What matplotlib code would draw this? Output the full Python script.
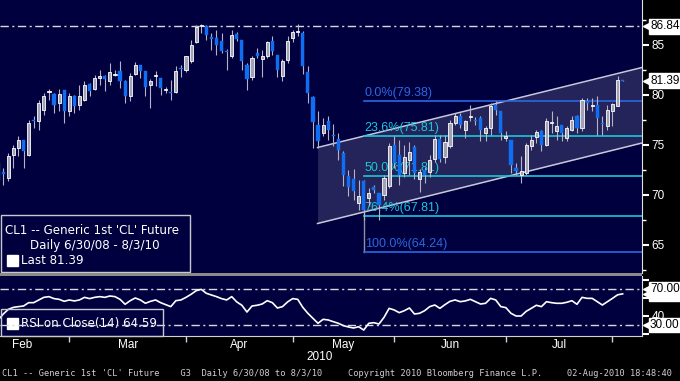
import numpy as np
import matplotlib.pyplot as plt
import matplotlib.transforms as mtransforms
from matplotlib.patches import Rectangle

# daily OHLC, CL1 generic 1st future, Feb 2010 -> 3 Aug 2010
opens = [73.17, 72.3, 71.67, 74.0, 74.67, 75.43, 74.0, 77.5, 77.33, 78.5,
         80.3, 80.1, 79.17, 80.43, 78.33, 79.9, 79.0, 79.5, 81.1, 80.57,
         81.7, 81.83, 81.33, 82.0, 82.33, 81.33, 79.9, 82.1, 83.0, 82.33,
         81.0, 81.9, 81.67, 80.5, 80.23, 80.23, 82.67, 82.5, 83.33, 85.23,
         86.83, 86.83, 85.73, 85.67, 85.33, 84.37, 83.83, 86.07, 85.43, 83.0,
         81.77, 84.17, 83.57, 83.83, 85.33, 84.0, 81.83, 83.43, 85.67, 86.3,
         86.17, 82.23, 79.73, 77.0, 76.17, 77.33, 75.93, 75.57, 74.17, 71.9,
         71.57, 69.17, 71.33, 69.67, 70.77, 70.17, 70.0, 70.83, 74.93, 74.0,
         72.2, 73.5, 74.8, 71.6, 72.5, 72.3, 73.6, 75.6, 73.8, 74.83,
         77.17, 77.83, 76.5, 77.73, 77.5, 77.67, 76.17, 76.67, 79.0, 78.33,
         75.67, 75.5, 72.67, 72.0, 72.17, 74.83, 75.77, 76.33, 75.0, 77.2,
         76.4, 77.0, 75.67, 76.5, 77.9, 76.67, 79.33, 78.83, 79.0, 77.17,
         76.83, 78.33, 78.9, 81.45]
highs = [73.3, 72.67, 74.17, 75.0, 75.83, 75.5, 77.5, 77.83, 79.5, 80.17,
         80.57, 80.17, 80.57, 80.5, 80.17, 80.0, 81.0, 81.33, 81.17, 82.0,
         82.5, 82.0, 83.17, 82.5, 83.33, 81.5, 82.17, 83.23, 83.0, 82.33,
         81.57, 82.4, 81.67, 80.77, 81.5, 82.9, 83.0, 83.9, 85.5, 87.0,
         87.1, 87.0, 86.17, 86.43, 86.17, 84.57, 86.5, 86.23, 85.5, 83.17,
         83.83, 84.67, 84.5, 85.33, 85.83, 84.0, 83.57, 85.83, 86.5, 87.1,
         86.33, 82.9, 79.83, 78.33, 77.67, 77.83, 77.1, 76.17, 74.33, 72.5,
         72.57, 71.5, 71.5, 70.67, 71.0, 70.17, 72.0, 75.17, 75.83, 75.5,
         75.0, 75.3, 75.0, 72.6, 72.8, 74.0, 76.0, 76.0, 76.0, 77.5,
         78.17, 78.17, 77.5, 79.0, 77.8, 77.83, 76.83, 79.17, 79.33, 78.33,
         76.33, 75.5, 73.17, 73.83, 75.17, 76.0, 76.5, 76.5, 77.67, 78.33,
         77.83, 77.0, 76.83, 77.83, 78.0, 79.67, 79.67, 79.67, 79.83, 77.83,
         79.0, 79.17, 81.9, 81.45]
lows = [71.3, 71.0, 71.33, 72.67, 73.83, 72.67, 73.83, 76.67, 76.5, 78.0,
        79.5, 78.17, 78.33, 77.17, 77.83, 78.17, 78.5, 79.33, 79.83, 80.5,
        81.0, 80.33, 81.0, 81.83, 80.67, 79.17, 79.33, 82.0, 81.67, 79.83,
        78.67, 80.9, 80.0, 80.17, 79.5, 80.17, 81.77, 82.23, 83.17, 85.17,
        86.17, 85.5, 84.43, 84.0, 84.17, 82.5, 83.67, 85.33, 82.5, 80.5,
        81.5, 83.67, 81.77, 83.67, 84.0, 81.77, 81.33, 83.17, 85.23, 85.9,
        82.1, 79.17, 74.67, 74.67, 75.83, 75.5, 74.83, 73.5, 70.83, 69.83,
        69.5, 68.5, 67.5, 68.83, 70.17, 67.5, 69.5, 70.67, 72.67, 71.0,
        71.8, 72.0, 71.6, 70.3, 71.2, 71.8, 73.3, 73.3, 73.2, 74.67,
        77.0, 76.67, 75.67, 77.33, 77.0, 75.33, 75.33, 76.0, 78.0, 75.5,
        75.33, 72.17, 72.0, 71.17, 72.0, 74.5, 75.17, 74.33, 74.83, 76.17,
        75.5, 75.33, 75.33, 76.33, 76.17, 76.33, 78.5, 78.33, 76.0, 76.0,
        76.5, 76.83, 78.83, 81.39]
closes = [71.5, 72.03, 73.9, 74.67, 75.43, 74.33, 77.17, 77.4, 79.17, 79.9,
          80.4, 79.0, 80.07, 78.33, 79.83, 78.83, 79.83, 81.0, 80.33, 81.67,
          81.83, 81.57, 82.23, 82.1, 81.4, 79.9, 81.83, 83.0, 82.33, 80.77,
          81.4, 81.97, 80.67, 80.6, 80.17, 82.33, 82.6, 83.83, 85.0, 86.73,
          86.9, 86.0, 85.57, 85.0, 84.33, 84.3, 86.0, 85.6, 83.4, 81.57,
          83.67, 83.83, 83.9, 85.23, 84.33, 82.5, 83.4, 85.33, 86.23, 86.37,
          82.83, 80.17, 77.23, 75.33, 77.0, 76.5, 75.87, 74.5, 72.0, 70.77,
          70.33, 69.9, 68.5, 70.17, 70.43, 69.0, 71.67, 74.83, 73.17, 72.0,
          73.8, 74.3, 72.2, 72.3, 72.0, 73.5, 75.6, 73.6, 75.3, 77.17,
          77.83, 77.0, 77.33, 77.8, 77.4, 76.5, 76.67, 78.9, 78.5, 76.17,
          75.83, 73.0, 72.33, 72.33, 75.0, 75.5, 76.23, 75.0, 77.33, 77.25,
          76.83, 76.17, 76.67, 77.5, 76.67, 79.5, 79.17, 78.9, 77.67, 77.1,
          78.5, 79.07, 81.43, 81.39]

# RSI(14) on close
rsi = [35.6, 42.2, 47.4, 49.6, 50.4, 51.1, 54.8, 54.8, 57.8, 60.7,
       61.5, 59.3, 58.5, 56.3, 57.8, 56.7, 57.8, 60.7, 59.3, 60.7,
       61.5, 60.7, 62.2, 61.5, 58.5, 53.0, 57.0, 60.0, 57.8, 54.1,
       56.3, 57.8, 54.8, 52.6, 50.4, 57.0, 57.8, 60.7, 64.1, 68.1,
       69.6, 65.2, 63.3, 61.5, 59.3, 57.8, 61.5, 55.6, 51.9, 44.4,
       51.1, 51.9, 53.3, 57.0, 54.8, 48.9, 50.4, 55.6, 59.3, 58.5,
       49.6, 43.0, 37.4, 31.9, 36.3, 35.6, 33.7, 31.9, 29.3, 27.8,
       26.7, 28.1, 24.4, 31.9, 32.6, 31.1, 38.5, 48.5, 46.7, 43.7,
       45.9, 48.9, 42.2, 43.0, 45.9, 50.4, 52.2, 48.5, 52.6, 56.3,
       57.8, 55.9, 56.7, 58.5, 55.9, 53.3, 54.1, 59.6, 57.8, 50.4,
       49.3, 43.0, 40.0, 40.0, 45.2, 48.5, 51.9, 50.4, 55.9, 54.8,
       54.1, 54.1, 55.2, 57.0, 53.0, 60.7, 59.6, 59.6, 55.9, 52.2,
       55.9, 59.6, 63.5, 64.59]

month_labels = ["Feb", "Mar", "Apr", "May", "Jun", "Jul"]
month_starts = [14, 37, 58, 78, 100, 121]  # bar index of first session

fib_names = ["0.0%", "23.6%", "50.0%", "76.4%", "100.0%"]
fib_levels = [79.38, 75.81, 71.81, 67.81, 64.24]
fib_start = 72  # swing-low bar where the retracement is anchored

channel_x = [62.9, 126.8]
channel_top = [74.7, 82.7]
channel_bottom = [67.1, 75.15]

resistance = 86.84
last_price = 81.39
rsi_last = 64.59

W, H = 680, 381
NAVY = "#00003e"
UP_FACE = "#a2a2b4"
DOWN_FACE = "#0f6ef2"
WICK = "#b4b4c4"
FIB_BLUE = "#2a68e0"
FIB_CYAN = "#18c8d8"
DASH = (0, (6, 2.5, 1.5, 2.5))

plt.rcParams["font.family"] = ["Liberation Sans", "DejaVu Sans"]
LEGEND_FONT = dict(family="DejaVu Sans", fontsize=8.6, color="white", va="center")


def fx(x):
    return x / W


def fy(y):
    return 1 - y / H


fig = plt.figure(figsize=(6.8, 3.81), dpi=100, facecolor="black")
ax = fig.add_axes([0, fy(272.5), fx(642), 272.5 / H], facecolor=NAVY)
ax_rsi = fig.add_axes([0, fy(336), fx(642), (336 - 276) / H], facecolor=NAVY)

xlim = (2 - 8.33 / 5.077, 2 + (642 - 8.33) / 5.077)

# ---- price panel ----
o = np.array(opens)
h = np.array(highs)
l = np.array(lows)
c = np.array(closes)
x = np.arange(len(o))
up = c >= o

ax.fill_between(channel_x, channel_bottom, channel_top, color="#24245a", lw=0, zorder=1)
ax.plot(channel_x, channel_top, color="#c8c8dc", lw=1.1, zorder=2)
ax.plot(channel_x, channel_bottom, color="#c8c8dc", lw=1.1, zorder=2)

ax.axhline(resistance, color="#d8d8e0", lw=1.0, ls=DASH, zorder=2)

for name, lvl in zip(fib_names, fib_levels):
    col = FIB_BLUE if name in ("0.0%", "100.0%") else FIB_CYAN
    ax.plot([fib_start, xlim[1]], [lvl, lvl], color=col, lw=1.2, zorder=2.5)
    ax.text(fib_start + 0.2, lvl + 0.2, f"{name}({lvl:.2f})", color=col,
            fontsize=9, va="bottom", ha="left", zorder=2.6)
ax.plot([fib_start, fib_start], [fib_levels[-1], 68.4], color="#9090a4", lw=1.0, zorder=2.4)

ax.vlines(x, l, h, color=WICK, lw=0.8, zorder=3)
body = np.maximum(np.abs(c - o), 0.08)
ax.bar(x[up], body[up], bottom=o[up], width=0.62, color=UP_FACE,
       edgecolor="white", linewidth=0.6, zorder=4)
ax.bar(x[~up], body[~up], bottom=c[~up], width=0.62, color=DOWN_FACE,
       edgecolor=DOWN_FACE, linewidth=0.3, zorder=4)

ax.set_xlim(*xlim)
ax.set_ylim(62.2, 89.45)
ax.set_xticks([])
for s in ["top", "left", "bottom"]:
    ax.spines[s].set_visible(False)
ax.spines["right"].set_color("#e0e0e8")
ax.yaxis.tick_right()
ax.set_yticks([65, 70, 75, 80, 85])
ax.set_yticks([62.5, 67.5, 72.5, 77.5, 82.5, 87.5], minor=True)
ax.tick_params(axis="y", which="major", colors="white", labelsize=8.5,
               length=5, width=1.5, pad=2)
ax.tick_params(axis="y", which="minor", colors="white", length=3, width=1)

blend = mtransforms.blended_transform_factory(ax.transAxes, ax.transData)
for val in (resistance, last_price):
    ax.plot(1.006, val, marker="<", ms=4, color="white", transform=blend, clip_on=False)
    ax.text(1.0125, val, f"{val:.2f}", transform=blend, fontsize=8.5, color="black",
            va="center", ha="left", clip_on=False,
            bbox=dict(boxstyle="square,pad=0.12", fc="white", ec="white"))

# ---- RSI panel ----
ax_rsi.axhline(70, color="#d8d8e0", lw=1.0, ls=DASH, zorder=3)
ax_rsi.axhline(30, color="#d8d8e0", lw=1.0, ls=DASH, zorder=3)
ax_rsi.plot(np.arange(len(rsi)), rsi, color="white", lw=1.2, zorder=4)
ax_rsi.set_xlim(*xlim)
ax_rsi.set_ylim(17.8, 84.4)
for s in ["top", "left"]:
    ax_rsi.spines[s].set_visible(False)
ax_rsi.spines["right"].set_color("#e0e0e8")
ax_rsi.spines["bottom"].set_color("#d0d0d8")
ax_rsi.yaxis.tick_right()
ax_rsi.set_yticks([20, 40, 60, 80])
ax_rsi.set_yticklabels(["", "40", "", ""])
ax_rsi.tick_params(axis="y", colors="white", labelsize=8.5, length=5, width=1.5, pad=2)

label_pos = [4.7] + [(a + b) / 2 for a, b in zip(month_starts[:-1], month_starts[1:])]
ax_rsi.set_xticks(month_starts)
ax_rsi.set_xticklabels([])
ax_rsi.set_xticks(label_pos, minor=True)
ax_rsi.set_xticklabels(month_labels, minor=True)
ax_rsi.tick_params(axis="x", which="major", colors="#d0d0d8", length=4, width=1)
ax_rsi.tick_params(axis="x", which="minor", colors="white", length=0, labelsize=8.5, pad=2.5)

blend_r = mtransforms.blended_transform_factory(ax_rsi.transAxes, ax_rsi.transData)
for val, txt in ((rsi_last, f"{rsi_last:.2f}"), (70, "70.00"), (30, "30.00")):
    ax_rsi.plot(1.006, val, marker="<", ms=4, color="white", transform=blend_r, clip_on=False)
    ax_rsi.text(1.0125, val, txt, transform=blend_r, fontsize=8.5, color="black",
                va="center", ha="left", clip_on=False,
                bbox=dict(boxstyle="square,pad=0.12", fc="white", ec="white"))

# RSI legend (dash line runs over it)
fig.add_artist(Rectangle((fx(0.5), fy(336)), fx(162), 27 / H, transform=fig.transFigure,
                         fill=False, ec="#c8c8d0", lw=1.0, zorder=1))
ax_rsi.add_patch(Rectangle((fx(7), fy(329)), fx(10.5), 11 / H, transform=fig.transFigure,
                           fc="white", ec="white", clip_on=False, zorder=2))
ax_rsi.text(fx(21), fy(324), f"RSI on Close(14) {rsi_last:.2f}", transform=fig.transFigure,
            ha="left", clip_on=False, zorder=2, **LEGEND_FONT)

# ---- price legend ----
fig.add_artist(Rectangle((fx(0.5), fy(272)), fx(189), 57 / H, transform=fig.transFigure,
                         fc=NAVY, ec="#c8c8d0", lw=1.0, zorder=1))
fig.text(fx(5), fy(230), "CL1 -- Generic 1st 'CL' Future", ha="left", **LEGEND_FONT)
fig.text(fx(95), fy(245), "Daily 6/30/08 - 8/3/10", ha="center", **LEGEND_FONT)
fig.add_artist(Rectangle((fx(7), fy(266)), fx(11), 11 / H, transform=fig.transFigure,
                         fc="white", ec="white", zorder=2))
fig.text(fx(21), fy(261), f"Last {last_price:.2f}", ha="left", **LEGEND_FONT)

# panel separator
fig.add_artist(Rectangle((0, fy(276)), fx(642), 3.5 / H, transform=fig.transFigure,
                         fc="#8a8a8a", ec="none", zorder=1))

fig.text(fx(320), fy(357), "2010", color="white", fontsize=8.5, va="center", ha="center")

mono = dict(family="DejaVu Sans Mono", fontsize=6.2, color="#d0d0d0", va="center", ha="left")
fig.text(fx(2), fy(373), "CL1 -- Generic 1st 'CL' Future    G3  Daily 6/30/08 to 8/3/10", **mono)
fig.text(fx(348), fy(373), "Copyright 2010 Bloomberg Finance L.P.", **mono)
fig.text(fx(567), fy(373), "02-Aug-2010 18:48:40", **mono)

fig.savefig("out.png", dpi=100, facecolor="black")
